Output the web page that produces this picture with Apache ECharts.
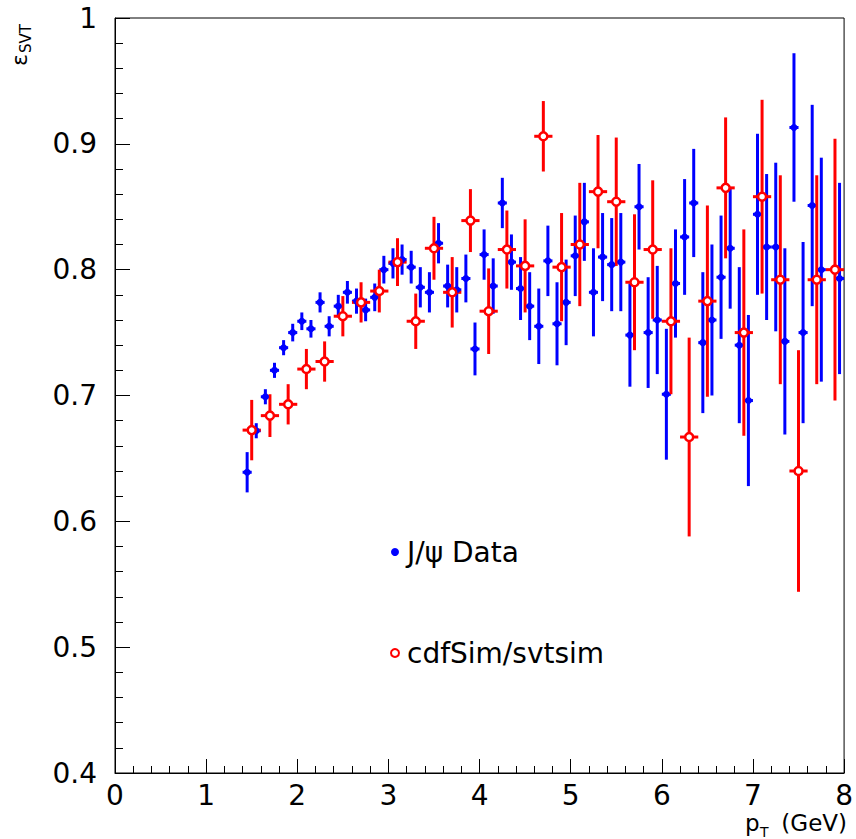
<!DOCTYPE html>
<html>
<head>
<meta charset="utf-8">
<script src="https://cdn.jsdelivr.net/npm/echarts@6/dist/echarts.min.js"></script>
<style>
    html, body { margin: 0; padding: 0; background: #fff; }
    #chart { width: 856px; height: 839px; }
</style>
</head>
<body>
<div id="chart"></div>
<script>
// J/psi data (blue), bin centres every 0.1 GeV
const dataX = [1.45, 1.55, 1.65, 1.75, 1.85, 1.95, 2.05, 2.15, 2.25, 2.35, 2.45, 2.55, 2.65, 2.75, 2.85, 2.95,
    3.05, 3.15, 3.25, 3.35, 3.45, 3.55, 3.65, 3.75, 3.85, 3.95, 4.05, 4.15, 4.25, 4.35, 4.45, 4.55, 4.65, 4.75,
    4.85, 4.95, 5.05, 5.15, 5.25, 5.35, 5.45, 5.55, 5.65, 5.75, 5.85, 5.95, 6.05, 6.15, 6.25, 6.35, 6.45, 6.55,
    6.65, 6.75, 6.85, 6.95, 7.05, 7.15, 7.25, 7.35, 7.45, 7.55, 7.65, 7.75, 7.95];
const dataEff = [0.639, 0.672, 0.699, 0.720, 0.738, 0.750, 0.759, 0.753, 0.774, 0.755, 0.771, 0.782, 0.775, 0.768, 0.778, 0.800,
    0.805, 0.808, 0.802, 0.786, 0.782, 0.821, 0.787, 0.784, 0.793, 0.737, 0.812, 0.787, 0.853, 0.806, 0.785, 0.771, 0.755, 0.807,
    0.757, 0.774, 0.811, 0.838, 0.782, 0.810, 0.804, 0.806, 0.748, 0.850, 0.750, 0.760, 0.701, 0.789, 0.826, 0.853, 0.742, 0.760,
    0.794, 0.817, 0.740, 0.696, 0.844, 0.818, 0.818, 0.743, 0.913, 0.750, 0.851, 0.800, 0.793];
const dataErr = [0.016, 0.006, 0.006, 0.006, 0.006, 0.007, 0.007, 0.007, 0.008, 0.008, 0.009, 0.009, 0.010, 0.009, 0.011, 0.011,
    0.012, 0.012, 0.013, 0.016, 0.016, 0.016, 0.017, 0.018, 0.019, 0.021, 0.020, 0.022, 0.020, 0.022, 0.025, 0.027, 0.030, 0.028,
    0.033, 0.034, 0.032, 0.031, 0.035, 0.035, 0.037, 0.039, 0.041, 0.034, 0.044, 0.043, 0.052, 0.043, 0.046, 0.043, 0.056, 0.060,
    0.049, 0.048, 0.062, 0.068, 0.064, 0.058, 0.067, 0.074, 0.059, 0.072, 0.080, 0.089, 0.076];

// cdfSim/svtsim (red), bin centres every 0.2 GeV
const simX = [1.5, 1.7, 1.9, 2.1, 2.3, 2.5, 2.7, 2.9, 3.1, 3.3, 3.5, 3.7, 3.9, 4.1, 4.3, 4.5, 4.7,
    4.9, 5.1, 5.3, 5.5, 5.7, 5.9, 6.1, 6.3, 6.5, 6.7, 6.9, 7.1, 7.3, 7.5, 7.7, 7.9];
const simEff = [0.6725, 0.684, 0.693, 0.721, 0.727, 0.763, 0.774, 0.783, 0.806, 0.759, 0.817, 0.782, 0.839, 0.767, 0.816, 0.803, 0.906,
    0.802, 0.820, 0.862, 0.854, 0.790, 0.816, 0.759, 0.667, 0.775, 0.865, 0.750, 0.858, 0.792, 0.640, 0.792, 0.800];
const simErr = [0.024, 0.017, 0.016, 0.016, 0.016, 0.016, 0.016, 0.017, 0.019, 0.022, 0.025, 0.028, 0.025, 0.034, 0.031, 0.037, 0.028,
    0.043, 0.049, 0.045, 0.051, 0.054, 0.055, 0.058, 0.079, 0.076, 0.056, 0.082, 0.077, 0.083, 0.096, 0.083, 0.104];

const xTicks = [0, 8, 1];
const yTicks = [0.4, 1, 0.1];

const FONT = 'DejaVu Sans';

function zip(xs, ys, es) {
    return xs.map((x, i) => [x, ys[i], es[i]]);
}

// vertical error bar plus horizontal bin-width bar
function errorBar(color, halfWidth) {
    return function (params, api) {
        const x = api.value(0);
        const y = api.value(1);
        const e = api.value(2);
        const top = api.coord([x, y + e]);
        const bot = api.coord([x, y - e]);
        const lft = api.coord([x - halfWidth, y]);
        const rgt = api.coord([x + halfWidth, y]);
        const style = { stroke: color, lineWidth: 3 };
        return {
            type: 'group',
            children: [
                { type: 'line', shape: { x1: top[0], y1: top[1], x2: bot[0], y2: bot[1] }, style: style },
                { type: 'line', shape: { x1: lft[0], y1: lft[1], x2: rgt[0], y2: rgt[1] }, style: style }
            ]
        };
    };
}

const chart = echarts.init(document.getElementById('chart'), null, { renderer: 'svg' });

const axisCommon = {
    axisLine: { show: true, lineStyle: { color: '#000', width: 1 } },
    axisTick: { show: true, inside: true, length: 14, lineStyle: { color: '#000', width: 1 } },
    minorTick: { show: true, splitNumber: 5, length: 7, lineStyle: { color: '#000', width: 1 } },
    splitLine: { show: false },
    axisLabel: { color: '#000', fontFamily: FONT, fontSize: 28 }
};

const option = {
    animation: false,
    backgroundColor: '#fff',
    grid: {
        left: 115, right: 9, top: 18, bottom: 66,
        show: true, borderColor: '#000', borderWidth: 1
    },
    xAxis: Object.assign({}, axisCommon, {
        type: 'value', min: xTicks[0], max: xTicks[1], interval: xTicks[2],
        axisLabel: Object.assign({}, axisCommon.axisLabel, { margin: 10, lineHeight: 24 })
    }),
    yAxis: Object.assign({}, axisCommon, {
        type: 'value', min: yTicks[0], max: yTicks[1], interval: yTicks[2],
        axisTick: Object.assign({}, axisCommon.axisTick, { length: 15 }),
        minorTick: Object.assign({}, axisCommon.minorTick, { length: 8 }),
        axisLabel: Object.assign({}, axisCommon.axisLabel, { margin: 18 })
    }),
    legend: {
        orient: 'vertical',
        left: 385,
        top: 532,
        itemWidth: 8,
        itemHeight: 8,
        itemGap: 71,
        textStyle: { color: '#000', fontFamily: FONT, fontSize: 28, lineHeight: 30, padding: [0, 0, 0, 3] },
        data: ['J/ψ Data', 'cdfSim/svtsim']
    },
    graphic: [
        // x axis title: p_T (GeV)
        { type: 'text', left: 745, top: 811, style: { text: 'p', fontFamily: FONT, fontSize: 23, fill: '#000' } },
        { type: 'text', left: 760, top: 825, style: { text: 'T', fontFamily: FONT, fontSize: 14, fill: '#000' } },
        { type: 'text', right: 9, top: 811, style: { text: '(GeV)', fontFamily: FONT, fontSize: 23, fill: '#000' } },
        // y axis title: epsilon_SVT, rotated
        {
            type: 'group', x: 19, y: 66, rotation: Math.PI / 2,
            children: [
                { type: 'text', x: 0, y: 0, style: { text: 'ε', fontFamily: FONT, fontSize: 22, fill: '#000', verticalAlign: 'middle', align: 'left' } },
                { type: 'text', x: 13, y: 7, style: { text: 'SVT', fontFamily: FONT, fontSize: 15, fill: '#000', verticalAlign: 'middle', align: 'left' } }
            ]
        }
    ],
    series: [
        {
            type: 'custom',
            name: 'dataBars',
            renderItem: errorBar('#0000ff', 0.05),
            data: zip(dataX, dataEff, dataErr),
            encode: { x: 0, y: 1 },
            silent: true
        },
        {
            type: 'scatter',
            name: 'J/ψ Data',
            symbol: 'circle',
            symbolSize: 7,
            itemStyle: { color: '#0000ff', opacity: 1 },
            data: dataX.map((x, i) => [x, dataEff[i]])
        },
        {
            type: 'custom',
            name: 'simBars',
            renderItem: errorBar('#ff0000', 0.1),
            data: zip(simX, simEff, simErr),
            encode: { x: 0, y: 1 },
            silent: true
        },
        {
            type: 'scatter',
            name: 'cdfSim/svtsim',
            symbol: 'circle',
            symbolSize: 8,
            itemStyle: { color: '#ffffff', borderColor: '#ff0000', borderWidth: 2.5, opacity: 1 },
            data: simX.map((x, i) => [x, simEff[i]])
        }
    ]
};

chart.setOption(option);
</script>
</body>
</html>
